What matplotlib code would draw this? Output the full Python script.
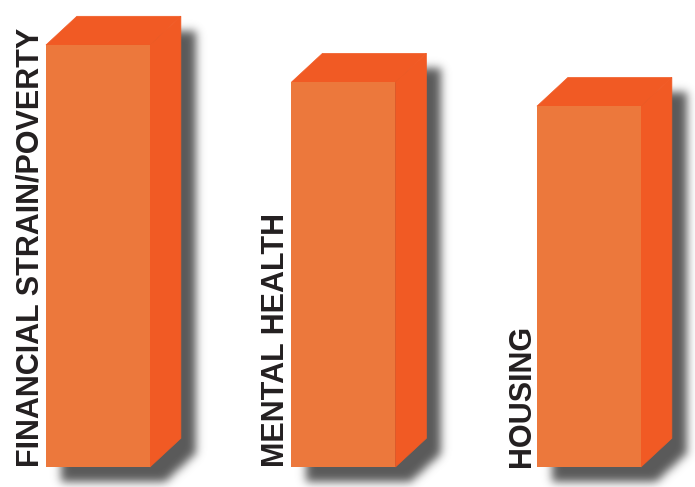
import numpy as np
import matplotlib
matplotlib.use("Agg")
import matplotlib.pyplot as plt
from matplotlib.patches import Polygon
from matplotlib.path import Path

categories = ["FINANCIAL STRAIN/POVERTY", "MENTAL HEALTH", "HOUSING"]
values = [100, 91.2, 85.5]

FRONT = "#EC783C"
SIDE = "#F15A24"
TOP = "#F15A24"
SHADOW = (0.35, 0.35, 0.35)
TEXT = "#231F20"

fig = plt.figure(figsize=(6.95, 4.87), dpi=100)
ax = fig.add_axes([0, 0, 1, 1])
ax.set_xlim(-0.399, 2.432)
ax.set_ylim(-4.74, 110.66)
ax.axis("off")

bar_w = 0.4236
dx = 0.126
dy = 6.8

x = np.arange(len(categories))

# silhouettes for shadow
fig.canvas.draw()
W, H = fig.canvas.get_width_height()
yy, xx = np.mgrid[0:H, 0:W]
pts = np.column_stack([xx.ravel() + 0.5, yy.ravel() + 0.5])
mask = np.zeros(H * W, dtype=float)
sh_off = np.array([15, -15])
for xi, v in zip(x, values):
    x0, x1 = xi - bar_w / 2, xi + bar_w / 2
    verts = np.array([(x0, 0), (x1, 0), (x1 + dx, dy), (x1 + dx, v + dy),
                      (x0 + dx, v + dy), (x0, v)])
    disp = ax.transData.transform(verts) + sh_off
    mask = np.maximum(mask, Path(disp).contains_points(pts).astype(float))
mask = mask.reshape(H, W)
sigma = 4.5
k = np.arange(-16, 17)
g = np.exp(-k**2 / (2 * sigma**2)); g /= g.sum()
mask = np.apply_along_axis(lambda r: np.convolve(r, g, mode="same"), 1, mask)
mask = np.apply_along_axis(lambda c: np.convolve(c, g, mode="same"), 0, mask)
img = np.zeros((H, W, 4))
img[..., 0], img[..., 1], img[..., 2] = SHADOW
img[..., 3] = np.clip(mask, 0, 1)
xl, yl = ax.get_xlim(), ax.get_ylim()
ax.imshow(img, extent=[xl[0], xl[1], yl[0], yl[1]], origin="lower",
          aspect="auto", zorder=1, interpolation="bilinear")
ax.set_xlim(xl); ax.set_ylim(yl)

for xi, v, cat in zip(x, values, categories):
    x0, x1 = xi - bar_w / 2, xi + bar_w / 2
    ax.add_patch(Polygon([(x1, 0), (x1 + dx, dy), (x1 + dx, v + dy), (x1, v)],
                         closed=True, facecolor=SIDE, edgecolor=SIDE, lw=0.5, zorder=2))
    ax.add_patch(Polygon([(x0, v), (x1, v), (x1 + dx, v + dy), (x0 + dx, v + dy)],
                         closed=True, facecolor=TOP, edgecolor=TOP, lw=0.5, zorder=2))
    ax.add_patch(Polygon([(x0, 0), (x1, 0), (x1, v), (x0, v)],
                         closed=True, facecolor=FRONT, edgecolor="none", zorder=3))
    ax.text(x0 - 0.03, 0, cat, rotation=90, rotation_mode="anchor",
            ha="left", va="baseline", fontsize=22, fontweight="bold",
            color=TEXT, family="Liberation Sans", zorder=4)

fig.savefig("out.png", dpi=100)
